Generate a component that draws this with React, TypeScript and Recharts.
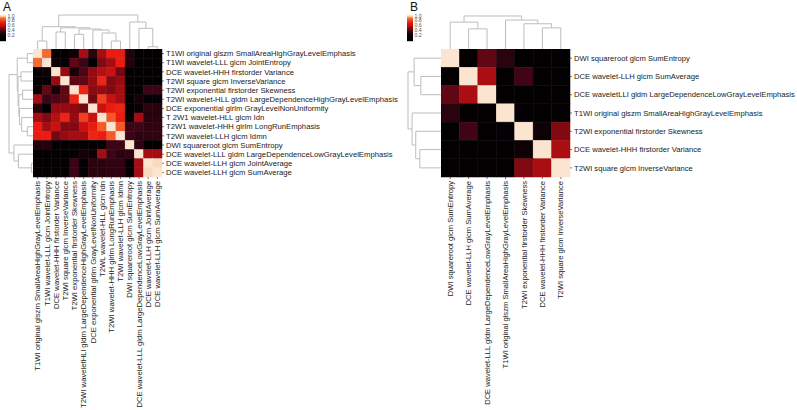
import React from 'react';
import { ScatterChart, Scatter, XAxis, YAxis } from 'recharts';

const FONT = '"Liberation Sans", Arial, Helvetica, sans-serif';

// ---- panel A ----
const rowLabelsA = [
  'T1WI original glszm SmallAreaHighGrayLevelEmphasis',
  'T1WI wavelet-LLL glcm JointEntropy',
  'DCE wavelet-HHH firstorder Variance',
  'T2WI square glcm InverseVariance',
  'T2WI exponential firstorder Skewness',
  'T2WI wavelet-HLL gldm LargeDependenceHighGrayLevelEmphasis',
  'DCE exponential glrlm GrayLevelNonUniformity',
  'T 2W1 wavelet-HLL glcm Idn',
  'T2W1 wavelet-HHH glrlm LongRunEmphasis',
  'T2WI wavelet-LLH glcm Idmn',
  'DWI squareroot glcm SumEntropy',
  'DCE wavelet-LLL gldm LargeDependenceLowGrayLevelEmphasis',
  'DCE wavelet-LLH glcm JointAverage',
  'DCE wavelet-LLH glcm SumAverage',
];

const colLabelsA = [
  'T1WI original glszm SmallAreaHighGrayLevelEmphasis',
  'T1WI wavelet-LLL glcm JointEntropy',
  'DCE wavelet-HHH firstorder Variance',
  'T2WI square glcm InverseVariance',
  'T2WI exponential firstorder Skewness',
  'T2WI waveletHLl gldm LargeDependenceHighGrayLevelEmphasis',
  'DCE exponential glrlm GrayLevelNonUniformity',
  'T2WL wavelet-HLL glcm Idn',
  'T2WI wavelet-HHH glrlm LongRunEmphasis',
  'T2WI wavelet-LLH glcm Idmn',
  'DWI squareroot glcm SumEntropy',
  'DCE wavelet-LLL gldm LargeDependenceLowGrayLevelEmphasis',
  'DCE wavelet-LLH glcm JointAverage',
  'DCE wavelet-LLH glcm SumAverage',
];

const corrA = [
  [1.00, 0.90, 0.15, 0.15, 0.22, 0.55, 0.30, 0.55, 0.72, 0.72, 0.28, 0.12, 0.12, 0.12],
  [0.90, 1.00, 0.22, 0.20, 0.42, 0.35, 0.08, 0.48, 0.55, 0.72, 0.28, 0.12, 0.15, 0.15],
  [0.15, 0.22, 1.00, 0.52, 0.25, 0.38, 0.52, 0.58, 0.62, 0.45, 0.12, 0.10, 0.12, 0.12],
  [0.15, 0.20, 0.52, 1.00, 0.42, 0.42, 0.52, 0.74, 0.48, 0.52, 0.10, 0.12, 0.12, 0.12],
  [0.22, 0.42, 0.25, 0.42, 1.00, 0.74, 0.50, 0.52, 0.48, 0.55, 0.15, 0.12, 0.35, 0.35],
  [0.55, 0.35, 0.38, 0.42, 0.74, 1.00, 0.45, 0.80, 0.62, 0.55, 0.12, 0.25, 0.20, 0.20],
  [0.30, 0.08, 0.52, 0.52, 0.50, 0.45, 1.00, 0.62, 0.72, 0.74, 0.15, 0.22, 0.30, 0.30],
  [0.55, 0.48, 0.58, 0.74, 0.52, 0.80, 0.62, 1.00, 0.86, 0.72, 0.10, 0.55, 0.30, 0.30],
  [0.72, 0.55, 0.62, 0.48, 0.48, 0.62, 0.72, 0.86, 1.00, 0.86, 0.35, 0.35, 0.32, 0.32],
  [0.72, 0.72, 0.45, 0.52, 0.55, 0.55, 0.74, 0.72, 0.86, 1.00, 0.35, 0.30, 0.32, 0.32],
  [0.28, 0.28, 0.12, 0.10, 0.15, 0.12, 0.15, 0.10, 0.35, 0.35, 1.00, 0.32, 0.15, 0.15],
  [0.12, 0.12, 0.10, 0.12, 0.12, 0.25, 0.22, 0.55, 0.35, 0.30, 0.32, 1.00, 0.55, 0.55],
  [0.12, 0.15, 0.12, 0.12, 0.35, 0.20, 0.30, 0.30, 0.32, 0.32, 0.15, 0.55, 1.00, 0.99],
  [0.12, 0.15, 0.12, 0.12, 0.35, 0.20, 0.30, 0.30, 0.32, 0.32, 0.15, 0.55, 0.99, 1.00],
];

// linkage: [left node, right node, distance]; leaves are 0..n-1, merges get n, n+1, ...
const mergesA: [number, number, number][] = [
  [8, 9, 8],
  [0, 1, 8],
  [12, 13, 2.3],
  [4, 5, 14.7],
  [7, 14, 16],
  [2, 3, 17],
  [6, 18, 19],
  [17, 20, 20],
  [11, 16, 20.7],
  [19, 21, 21.2],
  [15, 23, 22.3],
  [10, 22, 27],
  [24, 25, 34],
];

// ---- panel B ----
const rowLabelsB = [
  'DWI squareroot glcm SumEntropy',
  'DCE wavelet-LLH glcm SumAverage',
  'DCE waveletLLI gldm LargeDependenceLowGrayLevelEmphasis',
  'T1WI original glszm SmallAreaHighGrayLevelEmphasis',
  'T2WI exponential firstorder Skewness',
  'DCE wavelet-HHH firstorder Variance',
  'T2WI square glcm InverseVariance',
];

const colLabelsB = [
  'DWI squareroot glcm SumEntropy',
  'DCE wavelet-LLH glcm SumAverage',
  'DCE wavelet-LLL gldm LargeDependenceLowGrayLevelEmphasis',
  'T1WI original glszm SmallAreaHighGrayLevelEmphasis',
  'T2WI exponential firstorder Skewness',
  'DCE wavelet-HHH firstorder Variance',
  'T2WI square glcm InverseVariance',
];

const corrB = [
  [1.00, 0.15, 0.42, 0.30, 0.10, 0.10, 0.10],
  [0.15, 1.00, 0.56, 0.10, 0.36, 0.10, 0.10],
  [0.42, 0.56, 1.00, 0.10, 0.10, 0.10, 0.10],
  [0.30, 0.10, 0.10, 1.00, 0.20, 0.10, 0.10],
  [0.10, 0.36, 0.10, 0.20, 1.00, 0.22, 0.48],
  [0.10, 0.10, 0.10, 0.10, 0.22, 1.00, 0.56],
  [0.10, 0.10, 0.10, 0.10, 0.48, 0.56, 1.00],
];

const mergesB: [number, number, number][] = [
  [1, 2, 19.7],
  [5, 6, 20.7],
  [4, 8, 24.7],
  [0, 7, 26.3],
  [3, 9, 28.3],
  [10, 11, 32.3],
];

const legendTicks = [1.0, 0.8, 0.6, 0.4, 0.2];

// black -> dark red -> red -> orange -> pale peach
const CMAP: [number, string][] = [
  [0.0, '#000000'],
  [0.2, '#050003'],
  [0.35, '#3c0414'],
  [0.5, '#8c0a12'],
  [0.62, '#c81212'],
  [0.72, '#ea1c12'],
  [0.82, '#f04a22'],
  [0.9, '#f36a32'],
  [0.96, '#f7b892'],
  [1.0, '#fbe4d0'],
];

const hex = (h: string) => [1, 3, 5].map((i) => parseInt(h.slice(i, i + 2), 16));

const heatColor = (v: number) => {
  if (v <= CMAP[0][0]) return CMAP[0][1];
  for (let k = 1; k < CMAP.length; k++) {
    const [v1, c1] = CMAP[k];
    if (v <= v1) {
      const [v0, c0] = CMAP[k - 1];
      const t = (v - v0) / (v1 - v0);
      const a = hex(c0), b = hex(c1);
      const m = a.map((x, i) => Math.round(x + (b[i] - x) * t));
      return `rgb(${m[0]},${m[1]},${m[2]})`;
    }
  }
  return CMAP[CMAP.length - 1][1];
};

const ColTick = (props: any) => {
  const { x, y, payload, labels, fontSize } = props;
  return (
    <text
      x={x}
      y={y}
      transform={`rotate(-90, ${x}, ${y})`}
      textAnchor="end"
      dy="0.35em"
      fontSize={fontSize}
      fill="#222"
      fontFamily={FONT}
    >
      {labels[Math.floor(payload.value)]}
    </text>
  );
};

const RowTick = (props: any) => {
  const { x, y, payload, labels, fontSize } = props;
  return (
    <text x={x} y={y} textAnchor="start" dy="0.35em" fontSize={fontSize} fill="#222" fontFamily={FONT}>
      {labels[Math.floor(payload.value)]}
    </text>
  );
};

interface HeatmapProps {
  rows: string[];
  cols: string[];
  matrix: number[][];
  left: number;
  top: number;
  plotW: number;
  plotH: number;
  labelW: number;
  labelH: number;
  rowFont: number;
  colFont: number;
}

const Heatmap = ({ rows, cols, matrix, left, top, plotW, plotH, labelW, labelH, rowFont, colFont }: HeatmapProps) => {
  const n = rows.length;
  const cells: { x: number; y: number; v: number }[] = [];
  matrix.forEach((r, i) => r.forEach((v, j) => cells.push({ x: j + 0.5, y: i + 0.5, v })));
  const ticks = rows.map((_, i) => i + 0.5);
  const cw = plotW / n;
  const ch = plotH / n;
  return (
    <div style={{ position: 'absolute', left, top }}>
      <ScatterChart
        width={plotW + labelW}
        height={plotH + labelH}
        margin={{ top: 0, right: 0, bottom: 0, left: 0 }}
      >
        <XAxis
          type="number"
          dataKey="x"
          domain={[0, n]}
          ticks={ticks}
          interval={0}
          height={labelH}
          tickSize={2}
          tickMargin={2}
          axisLine={false}
          tickLine={{ stroke: '#777' }}
          tick={(p: any) => <ColTick {...p} labels={cols} fontSize={colFont} />}
        />
        <YAxis
          type="number"
          dataKey="y"
          domain={[0, n]}
          reversed
          orientation="right"
          ticks={ticks}
          interval={0}
          width={labelW}
          tickSize={2}
          tickMargin={2}
          axisLine={false}
          tickLine={{ stroke: '#777' }}
          tick={(p: any) => <RowTick {...p} labels={rows} fontSize={rowFont} />}
        />
        <Scatter
          data={cells}
          isAnimationActive={false}
          shape={(p: any) => (
            <rect
              x={p.cx - cw / 2}
              y={p.cy - ch / 2}
              width={cw}
              height={ch}
              fill={heatColor(p.payload.v)}
              stroke={heatColor(p.payload.v)}
              strokeWidth={0.5}
            />
          )}
        />
      </ScatterChart>
    </div>
  );
};

interface DendroProps {
  merges: [number, number, number][];
  n: number;
  side: 'top' | 'left';
  left: number;
  top: number;
  width: number;
  height: number;
  maxH: number;
}

const Dendrogram = ({ merges, n, side, left, top, width, height, maxH }: DendroProps) => {
  const pos: number[] = [];
  const ht: number[] = [];
  for (let i = 0; i < n; i++) {
    pos.push(i + 0.5);
    ht.push(0);
  }
  const links = merges.map(([a, b, h]) => {
    const pts = [
      { p: pos[a], h: ht[a] },
      { p: pos[a], h },
      { p: pos[b], h },
      { p: pos[b], h: ht[b] },
    ];
    pos.push((pos[a] + pos[b]) / 2);
    ht.push(h);
    return pts;
  });
  const isTop = side === 'top';
  return (
    <div style={{ position: 'absolute', left: left - (isTop ? 0 : 1), top: top - (isTop ? 1 : 0) }}>
      <ScatterChart
        width={width + (isTop ? 0 : 1)}
        height={height + (isTop ? 1 : 0)}
        margin={{ top: isTop ? 1 : 0, right: 0, bottom: 0, left: isTop ? 0 : 1 }}
      >
        <XAxis
          hide
          type="number"
          dataKey={isTop ? 'p' : 'h'}
          domain={isTop ? [0, n] : [0, maxH]}
          reversed={!isTop}
        />
        <YAxis
          hide
          type="number"
          dataKey={isTop ? 'h' : 'p'}
          domain={isTop ? [0, maxH] : [0, n]}
          reversed={!isTop}
        />
        {links.map((pts, k) => (
          <Scatter
            key={k}
            data={pts}
            isAnimationActive={false}
            line={{ stroke: '#bdbdbd', strokeWidth: 1 }}
            lineType="joint"
            shape={() => <g />}
          />
        ))}
      </ScatterChart>
    </div>
  );
};

const ColorKey = ({ id, x, letter }: { id: string; x: number; letter: string }) => {
  // value -> y inside the key
  const yOf = (v: number) => 15.8 + (1 - v) * 24.2;
  return (
    <g>
      <text x={x + 3} y={11} fontSize={12} fontFamily={FONT} fill="#111">
        {letter}
      </text>
      <defs>
        <linearGradient id={id} x1="0" y1="1" x2="0" y2="0">
          {CMAP.map(([v, c]) => (
            <stop key={v} offset={(v + 0.05) / 1.1} stopColor={c} />
          ))}
        </linearGradient>
      </defs>
      <rect x={x} y={yOf(1.05)} width={6} height={yOf(-0.05) - yOf(1.05)} fill={`url(#${id})`} />
      {legendTicks.map((t) => (
        <text key={t} x={x + 7.5} y={yOf(t)} dy="0.35em" fontSize={5.2} fill="#555" fontFamily={FONT}>
          {t.toFixed(1)}
        </text>
      ))}
    </g>
  );
};

export default function App() {
  return (
    <div
      style={{
        position: 'absolute',
        left: 0,
        top: 0,
        width: 797,
        height: 410,
        background: '#fff',
        overflow: 'hidden',
      }}
    >
      <Dendrogram merges={mergesA} n={14} side="top" left={33} top={15} width={129} height={34} maxH={34} />
      <Dendrogram merges={mergesA} n={14} side="left" left={9} top={49} width={24} height={128} maxH={34} />
      <Heatmap
        rows={rowLabelsA}
        cols={colLabelsA}
        matrix={corrA}
        left={33}
        top={49}
        plotW={129}
        plotH={128}
        labelW={240}
        labelH={232}
        rowFont={7.7}
        colFont={7.7}
      />

      <Dendrogram merges={mergesB} n={7} side="top" left={441} top={16} width={129} height={33} maxH={32.3} />
      <Dendrogram merges={mergesB} n={7} side="left" left={408} top={49} width={33} height={128} maxH={32.3} />
      <Heatmap
        rows={rowLabelsB}
        cols={colLabelsB}
        matrix={corrB}
        left={441}
        top={49}
        plotW={129}
        plotH={128}
        labelW={226}
        labelH={232}
        rowFont={7.65}
        colFont={7.6}
      />

      <svg width={797} height={410} style={{ position: 'absolute', left: 0, top: 0, pointerEvents: 'none' }}>
        <ColorKey id="keyA" x={0} letter="A" />
        <ColorKey id="keyB" x={407} letter="B" />
      </svg>
    </div>
  );
}
